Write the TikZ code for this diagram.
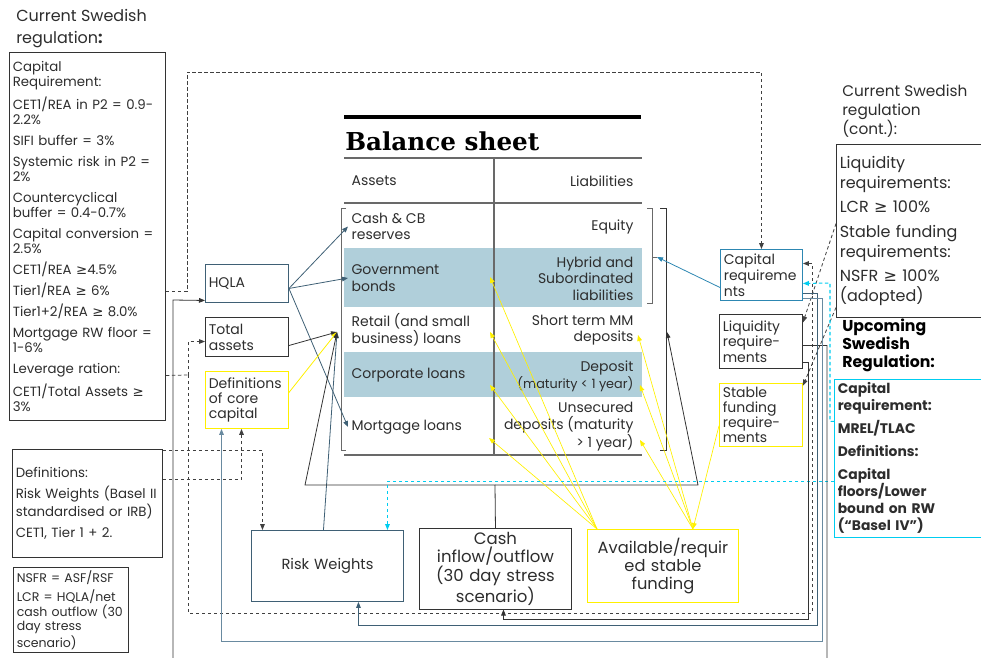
\documentclass[tikz,border=0pt]{standalone}
\usepackage{fontspec}
\setmainfont{Poppins}
\newfontfamily\symfont{DejaVu Sans}
\newfontfamily\sheetfont{DejaVu Serif}
\usetikzlibrary{arrows.meta}

\newcommand{\gsym}{{\symfont\char"2265}}

\definecolor{txt}{RGB}{45,45,45}
\definecolor{slate}{RGB}{63,96,117}
\definecolor{lightslate}{RGB}{105,138,160}
\definecolor{capblue}{RGB}{45,135,178}
\definecolor{sheetblue}{RGB}{176,207,218}
\definecolor{yel}{RGB}{255,240,0}
\definecolor{cyn}{RGB}{0,205,240}
\definecolor{lineg}{RGB}{105,105,105}

\tikzset{
  box/.style={draw, line width=0.7pt, anchor=north west, inner sep=2.5pt, align=left, text=txt},
  sheettxt/.style={inner sep=2.5pt, text=txt, font=\fontsize{10.5}{12.5}\selectfont},
  conn/.style={line width=0.6pt, -{Triangle[length=4.5pt,width=3.5pt]}},
  dashconn/.style={conn, draw=black!75, dash pattern=on 2.5pt off 2pt},
}

\begin{document}
\begin{tikzpicture}[x=0.75pt,y=-0.75pt]
\useasboundingbox (0,0) rectangle (981,657);
\clip (0,0) rectangle (981,657);

% Left side: current regulation
\node[anchor=west, align=left, inner sep=0pt, text=txt, font=\fontsize{12}{16.5}\selectfont] (curreg) at (16,29) {Current Swedish\\regulation\textbf{:}};
\node[box, draw=black!80, minimum height=276pt, text width=112pt, font=\fontsize{10}{11.25}\selectfont] (capreq) at (9,52) {%
Capital\\Requirement:\\[4.5pt]
CET1/REA in P2 = 0.9-\\2.2\%\\[4.5pt]
SIFI buffer = 3\%\\[4.5pt]
Systemic risk in P2 =\\2\%\\[4.5pt]
Countercyclical\\buffer = 0.4-0.7\%\\[4.5pt]
Capital conversion =\\2.5\%\\[4.5pt]
CET1/REA \gsym4.5\%\\[4.5pt]
Tier1/REA \gsym{} 6\%\\[4.5pt]
Tier1+2/REA \gsym{} 8.0\%\\[4.5pt]
Mortgage RW floor =\\1-6\%\\[4.5pt]
Leverage ration:\\[4.5pt]
CET1/Total Assets \gsym\\3\%};
\node[box, draw=black!80, minimum height=81pt, text width=107.5pt, font=\fontsize{10}{12}\selectfont] (defs) at (12,449) {%
Definitions:\\[4pt]
Risk Weights (Basel II\\standardised or IRB)\\[4pt]
CET1, Tier 1 + 2.};
\node[box, draw=black!80, minimum height=60pt, text width=81.25pt, font=\fontsize{9.4}{10.9}\selectfont] (nsfr) at (13,567) {%
NSFR = ASF/RSF\\[3.4pt]
LCR = HQLA/net\\cash outflow (30\\day stress\\scenario)};

% Small boxes left of the sheet
\node[box, draw=slate, minimum height=28.5pt, text width=57.25pt, font=\fontsize{10.5}{12}\selectfont] (hqla) at (205,264) {HQLA};
\node[box, draw=black!80, minimum height=29.25pt, text width=57.25pt, font=\fontsize{10.5}{12}\selectfont] (total) at (205,317) {Total\\assets};
\node[box, draw=yel, minimum height=42.75pt, text width=57.25pt, font=\fontsize{10.5}{11.25}\selectfont] (coredef) at (205,371) {Definitions\\of core\\capital};

% Balance sheet
\fill[sheetblue] (344,248) rectangle (642,307);
\fill[sheetblue] (344,352) rectangle (642,397);
\draw[line width=2.4pt] (344,117) -- (641,117);
\node[anchor=west, inner sep=0pt, font=\sheetfont\bfseries\fontsize{18.5}{22}\selectfont] (bstitle) at (345,141) {Balance sheet};
\draw[lineg, line width=0.8pt] (344,158) -- (642,158) (344,203) -- (642,203) (344,455) -- (642,455) (494,158) -- (494,455);

\node[sheettxt, anchor=west] (assetsl) at (348,181) {Assets};
\node[sheettxt, anchor=east] (liabl) at (637,181) {Liabilities};
\node[sheettxt, anchor=west, align=left] (cash) at (348,226.5) {Cash \& CB\\reserves};
\node[sheettxt, anchor=west, align=left] (gov) at (348,278) {Government\\bonds};
\node[sheettxt, anchor=west, align=left] (retail) at (348,330) {Retail (and small\\business) loans};
\node[sheettxt, anchor=west] (corp) at (348,375) {Corporate loans};
\node[sheettxt, anchor=west] (mort) at (348,427) {Mortgage loans};
\node[sheettxt, anchor=east] (equity) at (637,227) {Equity};
\node[sheettxt, anchor=east, align=right] (hybrid) at (637,278.5) {Hybrid and\\Subordinated\\liabilities};
\node[sheettxt, anchor=east, align=right] (stmm) at (637,330) {Short term MM\\deposits};
\node[sheettxt, anchor=east, align=right] (dep) at (637,376) {Deposit\\{\fontsize{9.6}{11}\selectfont(maturity < 1 year)}};
\node[sheettxt, anchor=east, align=right] (unsec) at (637,426.5) {Unsecured\\deposits (maturity\\> 1 year)};

% brackets
\draw[lineg, line width=0.7pt] (346,208) -| (341,450) -- (346,450);
\draw[lineg, line width=0.7pt] (647,208) -| (652,303) -- (647,303) (652,257) -- (657,257);
\draw[black!80, line width=0.7pt] (660,208) -| (666,450) -- (660,450);
\coordinate (lbr) at (337,332);
\coordinate (rbr) at (667,332);
\coordinate (ibr) at (657,257);
\coordinate (gova) at (490,277);
\coordinate (retaila) at (490,332);
\coordinate (corpa) at (490,385);
\coordinate (morta) at (489,438);
\coordinate (stmma) at (638,335);
\coordinate (depa) at (640,385);
\coordinate (unseca) at (640,440);

% Requirement boxes on the right
\node[box, draw=capblue, minimum height=38.25pt, text width=56.5pt, font=\fontsize{10.5}{12}\selectfont] (capr) at (720,249) {Capital\\requireme\\nts};
\node[box, draw=black!80, minimum height=40.5pt, text width=57.25pt, font=\fontsize{10.5}{11.6}\selectfont] (liq) at (719,314) {Liquidity\\require-\\ments};
\node[box, draw=yel, minimum height=47.25pt, text width=57.25pt, font=\fontsize{10.5}{11.25}\selectfont] (stable) at (719,383) {Stable\\funding\\require-\\ments};

% Right side regulation
\node[anchor=west, align=left, inner sep=0pt, text=txt, font=\fontsize{11.5}{14.25}\selectfont] (curreg2) at (842,111) {Current Swedish\\regulation\\(cont.):};
\node[box, draw=black!80, minimum height=129.75pt, text width=115pt, font=\fontsize{12}{14.6}\selectfont] (liqreg) at (836,144) {%
Liquidity\\requirements:\\[4pt]
LCR \gsym{} 100\%\\[4pt]
Stable funding\\requirements:\\[4pt]
NSFR \gsym{} 100\%\\(adopted)};
\node[anchor=west, align=left, inner sep=0pt, text=black, font=\bfseries\fontsize{11.8}{13.5}\selectfont] (upreg) at (842,345) {Upcoming\\Swedish\\Regulation:};
\node[box, draw=cyn, minimum height=117pt, text width=115pt, font=\bfseries\fontsize{10.4}{12.75}\selectfont] (cyanbox) at (834,379) {%
Capital\\requirement:\\[4.5pt]
MREL/TLAC\\[4.5pt]
Definitions:\\[4.5pt]
Capital\\floors/Lower\\bound on RW\\(“Basel IV”)};

% Bottom boxes
\node[box, draw=slate, align=center, minimum height=53.25pt, text width=109pt, font=\fontsize{11}{13}\selectfont] (risk) at (251,530) {Risk Weights};
\node[box, draw=black!80, align=center, minimum height=56.25pt, text width=109pt, font=\fontsize{12.4}{13.5}\selectfont] (cashb) at (419,528) {Cash\\inflow/outflow\\(30 day stress\\scenario)};
\node[box, draw=yel, align=center, minimum height=54.75pt, text width=108.25pt, font=\fontsize{12.2}{13.5}\selectfont] (avail) at (587,529) {Available/requir\\ed stable\\funding};
\coordinate (availL) at ([xshift=7.5pt]avail.north west);
\coordinate (availR) at ([xshift=-34.5pt]avail.north east);

% HQLA into the assets
\foreach \t in {cash,gov,mort}
  \draw[conn, slate] ([yshift=-3.75pt]hqla.east) -- (\t.west);

% everything into the asset bracket
\draw[conn, black!80] ([yshift=-6.4pt]total.east) -- (lbr);
\draw[conn, yel] ([yshift=5.6pt]coredef.east) -- (lbr);
\draw[conn, slate] ([xshift=-3pt]risk.north) -- (lbr);
\draw[conn, black!80] (cashb.north) -- (495,485) -- (305,485) -- (lbr);
\draw[conn, black!80] (495,485) -- (698,485) -- (rbr);
\draw[conn, capblue] ([yshift=-9.4pt]capr.west) -- (ibr);

% stable funding fans
\foreach \t in {gova,retaila,corpa,morta}
  \draw[conn, yel, line width=0.5pt] (availL) -- (\t);
\foreach \t in {stmma,depa,unseca}
  \draw[conn, yel, line width=0.5pt] (availR) -- (\t);
\draw[conn, yel, line width=0.5pt] ([yshift=-8pt]stable.west) -- (availR);

% dashed links from the regulation text
\draw[dashconn] ([yshift=-41.25pt]capreq.east) -| (187,72) -| (capr.north);
\coordinate (lev) at (188,375);
\draw[dashconn, -] ([yshift=-104.25pt]capreq.east) -- (lev);
\draw[dashconn] (lev) |- ([yshift=-3.4pt]total.west);
\draw[dashconn] (lev) |- (812,613) |- ([yshift=8.6pt]capr.east);
\draw[dashconn] ([yshift=39.75pt]defs.east) -| ([xshift=-48.75pt]risk.north);
\draw[dashconn] ([yshift=18pt]defs.east) -| ([xshift=-4.1pt]coredef.south);
\draw[dashconn] ([yshift=5.6pt]liqreg.west) -- ([yshift=14.25pt]liq.east);
\draw[dashconn] ([yshift=-57.4pt]liqreg.west) -- ([yshift=22pt]stable.east);
\draw[dashconn, draw=cyn, line width=0.8pt] ([yshift=27.75pt]cyanbox.west) -| (830,283) -- ([yshift=-6.4pt]capr.east);
\draw[dashconn, draw=cyn, line width=0.8pt] ([yshift=-17.25pt]cyanbox.west) -| ([xshift=45pt]risk.north);

% solid links along the bottom
\draw[conn, black!80] ([yshift=-3pt]liq.east) -| (827,680) -| (173,300) -- ([yshift=-12.75pt]hqla.west);
\draw[conn, black!80] ([yshift=-15.75pt]liq.east) -| (808,619) -| ([xshift=6pt]cashb.south);
\draw[conn, slate] ([yshift=-13.9pt]capr.east) -| (817,625) -| ([xshift=23.25pt]risk.south);
\draw[conn, lightslate] ([yshift=-17.6pt]capr.east) -| (822,641) -| ([xshift=-19.1pt]coredef.south);
\end{tikzpicture}
\end{document}
